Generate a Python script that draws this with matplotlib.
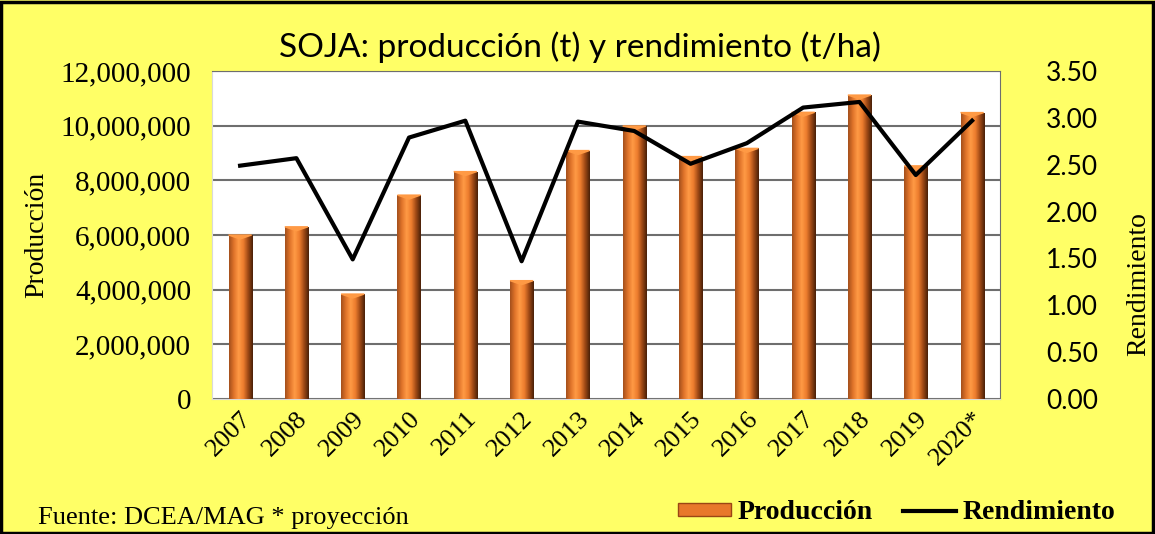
import matplotlib.pyplot as plt
import numpy as np
from matplotlib.colors import LinearSegmentedColormap
from matplotlib.patches import Rectangle
from matplotlib.lines import Line2D
from matplotlib.ticker import FuncFormatter

years = ['2007', '2008', '2009', '2010', '2011', '2012', '2013',
         '2014', '2015', '2016', '2017', '2018', '2019', '2020*']
produccion = [6.00e6, 6.30e6, 3.84e6, 7.46e6, 8.32e6, 4.33e6, 9.09e6,
              9.99e6, 8.87e6, 9.17e6, 10.49e6, 11.12e6, 8.53e6, 10.48e6]
rendimiento = [2.49, 2.57, 1.49, 2.79, 2.97, 1.47, 2.96,
               2.86, 2.51, 2.73, 3.11, 3.17, 2.39, 2.97]

YELLOW = '#FFFF66'
SERIF = ['Liberation Serif', 'DejaVu Serif']
SANS = ['Lato', 'DejaVu Sans']

fig = plt.figure(figsize=(11.55, 5.34), dpi=100, facecolor=YELLOW)
fig.patches.append(Rectangle((0.001, 0.002), 0.997, 0.995, transform=fig.transFigure,
                             fill=False, edgecolor='black', linewidth=2.5))

ax = fig.add_axes([0.1835, 0.2528, 0.6825, 0.6142])
ax.set_facecolor('white')
x = np.arange(len(years))

bars = ax.bar(x, produccion, width=0.41, color='#E8782A', zorder=2)

# horizontal gradient on each bar for the bevelled look
cmap = LinearSegmentedColormap.from_list('bevel', ['#A4501C', '#E0742A', '#FF9A45', '#EE7E2E',
                                                   '#A04A16', '#4A2008'])
grad = np.linspace(0, 1, 64).reshape(1, -1)
for b in bars:
    x0, w, h = b.get_x(), b.get_width(), b.get_height()
    im = ax.imshow(grad, cmap=cmap, aspect='auto', extent=(x0, x0 + w, 0, h), zorder=3)
    im.set_clip_path(b)
    ax.fill([x0, x0 + w, x0 + w / 2], [h, h, h - 0.012 * 12e6], color='#FF9A45', zorder=4)

ax.set_xlim(-0.5, len(years) - 0.5)
ax.set_ylim(0, 12e6)
ax.set_yticks(np.arange(0, 12e6 + 1, 2e6))
ax.yaxis.set_major_formatter(FuncFormatter(lambda v, p: f'{v:,.0f}'))
ax.grid(axis='y', color='#6E6E6E', linewidth=1.5, zorder=1)
ax.set_axisbelow(True)
ax.tick_params(axis='y', length=0, pad=15)
ax.tick_params(axis='x', length=0, pad=6)
ax.set_xticks(x)
ax.set_xticklabels(years, rotation=45, ha='right', rotation_mode='anchor', family=SERIF, fontsize=19)
for t in ax.get_yticklabels():
    t.set_family(SERIF)
    t.set_fontsize(21)
for s in ['left', 'bottom']:
    ax.spines[s].set_color('#D9D9D9')
for s in ['top', 'right']:
    ax.spines[s].set_color('#6E6E6E')
ax.set_ylabel('Producción', family=SERIF, fontsize=20)
ax.yaxis.set_label_coords(-0.207, 0.5)

ax2 = ax.twinx()
ax2.plot(x, rendimiento, color='black', linewidth=3, zorder=5)
ax2.set_ylim(0, 3.5)
ax2.set_yticks(np.arange(0, 3.51, 0.5))
ax2.yaxis.set_major_formatter(FuncFormatter(lambda v, p: f'{v:.2f}'))
ax2.tick_params(length=0, pad=33)
for t in ax2.get_yticklabels():
    t.set_family(SANS)
    t.set_fontsize(19)
for s in ax2.spines.values():
    s.set_visible(False)
ax2.set_ylabel('Rendimiento', family=SERIF, fontsize=20)
ax2.yaxis.set_label_coords(1.16, 0.35)

fig.text(0.502, 0.912, 'SOJA: producción (t) y rendimiento (t/ha)', ha='center', va='center',
         family=SANS, fontsize=24)
fig.text(0.033, 0.035, 'Fuente: DCEA/MAG * proyección', family=SERIF, fontsize=19,
         ha='left', va='center_baseline')

handles = [Rectangle((0, 0), 1, 1, facecolor='#E8782A', edgecolor='#9A4614'),
           Line2D([0], [0], color='black', linewidth=3)]
fig.legend(handles, ['Producción', 'Rendimiento'], loc='center right',
           bbox_to_anchor=(0.978, 0.04), ncol=2, frameon=False, borderpad=0,
           prop={'family': SERIF, 'weight': 'bold', 'size': 20},
           handlelength=1.9, handleheight=0.35, columnspacing=1.1, handletextpad=0.25)

plt.savefig('out.png', dpi=100, facecolor=YELLOW)
